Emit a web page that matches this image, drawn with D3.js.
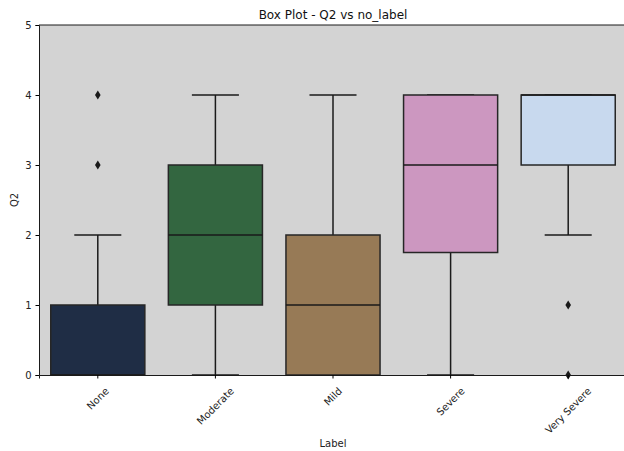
<!DOCTYPE html>
<html>
<head>
<meta charset="utf-8">
<script src="https://cdn.jsdelivr.net/npm/d3@7"></script>
<style>
  html, body { margin: 0; padding: 0; background: #fff; }
  svg { display: block; font-family: "DejaVu Sans", sans-serif; }
</style>
</head>
<body>
<svg id="chart" width="624" height="451"></svg>
<script>
// Categories and their five-number summaries (whisker low, Q1, median, Q3, whisker high)
const categories = ["None", "Moderate", "Mild", "Severe", "Very Severe"];
const whiskerLow = [0, 0, 0, 0, 2];
const q1 = [0, 1, 0, 1.75, 3];
const median = [0, 2, 1, 3, 4];
const q3 = [1, 3, 2, 4, 4];
const whiskerHigh = [2, 4, 4, 4, 4];
const outliers = [[3, 4], [], [], [], [1, 0]];
const colors = ["#1f2d45", "#336640", "#977a56", "#cc97c0", "#c8d9ee"];
const yTicks = [0, 1, 2, 3, 4, 5];

const svg = d3.select("#chart");
const margin = { left: 39, top: 25, right: -3, bottom: 76 };
const W = 624, H = 451;
const x0 = margin.left, x1 = W - margin.right;
const y0 = H - margin.bottom, y1 = margin.top;

const x = d3.scaleBand().domain(categories).range([x0, x1]).padding(0);
const y = d3.scaleLinear().domain([0, 5]).range([y0, y1]);

const ink = "#1a1a1a";

// Plot background
svg.append("rect")
  .attr("x", x0).attr("y", y1)
  .attr("width", x1 - x0).attr("height", y0 - y1)
  .attr("fill", "#d3d3d3");

const boxW = x.bandwidth() * 0.8;
const capW = boxW / 2;

const groups = svg.append("g").selectAll("g")
  .data(categories.map((c, i) => ({
    c, lo: whiskerLow[i], q1: q1[i], med: median[i], q3: q3[i], hi: whiskerHigh[i],
    out: outliers[i], color: colors[i]
  })))
  .join("g");

groups.each(function(d) {
  const g = d3.select(this);
  const cx = x(d.c) + x.bandwidth() / 2;
  // whiskers
  g.append("line").attr("x1", cx).attr("x2", cx)
    .attr("y1", y(d.q1)).attr("y2", y(d.lo))
    .attr("stroke", ink).attr("stroke-width", 1.5);
  g.append("line").attr("x1", cx).attr("x2", cx)
    .attr("y1", y(d.q3)).attr("y2", y(d.hi))
    .attr("stroke", ink).attr("stroke-width", 1.5);
  // caps
  [d.lo, d.hi].forEach(v => {
    g.append("line").attr("x1", cx - capW / 2).attr("x2", cx + capW / 2)
      .attr("y1", y(v)).attr("y2", y(v))
      .attr("stroke", ink).attr("stroke-width", 1.5);
  });
  // box
  g.append("rect")
    .attr("x", cx - boxW / 2).attr("width", boxW)
    .attr("y", y(d.q3)).attr("height", y(d.q1) - y(d.q3))
    .attr("fill", d.color)
    .attr("stroke", "#262626").attr("stroke-width", 1.5);
  // median
  g.append("line").attr("x1", cx - boxW / 2).attr("x2", cx + boxW / 2)
    .attr("y1", y(d.med)).attr("y2", y(d.med))
    .attr("stroke", ink).attr("stroke-width", 1.5);
  // outliers (thin diamonds)
  g.selectAll("path.out").data(d.out).join("path")
    .attr("class", "out")
    .attr("d", v => {
      const py = y(v);
      return `M${cx},${py - 4.5}L${cx + 2.8},${py}L${cx},${py + 4.5}L${cx - 2.8},${py}Z`;
    })
    .attr("fill", ink);
});

// Axes
const yAxis = d3.axisLeft(y).tickValues(yTicks).tickFormat(d3.format("d")).tickSizeOuter(0).tickSize(3.5).tickPadding(4);
const yg = svg.append("g").attr("transform", `translate(${x0},0)`).call(yAxis);
yg.select(".domain").attr("stroke", ink).attr("stroke-width", 1);
yg.selectAll("text").attr("font-size", 10).attr("fill", "#222").attr("font-family", "DejaVu Sans");

const xAxis = d3.axisBottom(x).tickSizeOuter(0).tickSize(3.5).tickPadding(3);
const xg = svg.append("g").attr("transform", `translate(0,${y0})`).call(xAxis);
xg.select(".domain").attr("stroke", ink).attr("stroke-width", 1);
// Rotated labels, each centred under its tick
xg.selectAll("text")
  .attr("font-size", 10).attr("fill", "#222").attr("font-family", "DejaVu Sans")
  .attr("text-anchor", "middle")
  .attr("dy", "0.35em")
  .attr("y", 0).attr("x", 0)
  .attr("transform", function() {
    const len = this.getComputedTextLength();
    const cy = 10 + (len + 12) / (2 * Math.SQRT2);
    return `translate(0,${cy}) rotate(-45)`;
  });

// top spine
svg.append("line").attr("x1", x0).attr("x2", x1).attr("y1", y1).attr("y2", y1)
  .attr("stroke", ink).attr("stroke-width", 1);

// Title and axis labels
svg.append("text").attr("x", (x0 + x1) / 2).attr("y", 19)
  .attr("text-anchor", "middle").attr("font-size", 12).attr("fill", "#111")
  .text("Box Plot - Q2 vs no_label");
svg.append("text").attr("x", (x0 + x1) / 2).attr("y", 447)
  .attr("text-anchor", "middle").attr("font-size", 10).attr("fill", "#222")
  .text("Label");
svg.append("text")
  .attr("transform", `translate(18,${(y0 + y1) / 2}) rotate(-90)`)
  .attr("text-anchor", "middle").attr("font-size", 10).attr("fill", "#222")
  .text("Q2");
</script>
</body>
</html>
